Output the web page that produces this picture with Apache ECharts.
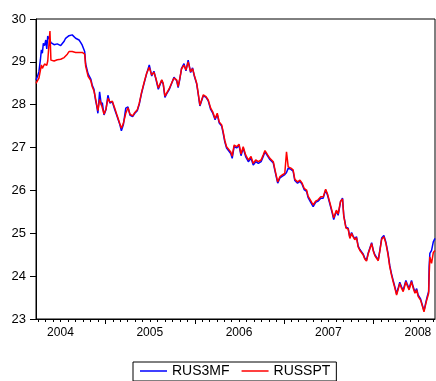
<!DOCTYPE html>
<html>
<head>
<meta charset="utf-8">
<script src="https://cdn.jsdelivr.net/npm/echarts@6/dist/echarts.min.js"></script>
<style>
  html, body { margin: 0; padding: 0; background: #fff; }
  #chart { width: 436px; height: 381px; }
</style>
</head>
<body>
<div id="chart"></div>
<script>
// Observation dates (sampled daily fixings)
const dates = [
  '2004-03-23','2004-03-29','2004-04-04','2004-04-10','2004-04-14','2004-04-18','2004-04-22','2004-04-27',
  '2004-05-02','2004-05-06','2004-05-10','2004-05-15','2004-05-19','2004-05-23','2004-05-29','2004-06-05',
  '2004-06-12','2004-06-18','2004-06-25','2004-07-02','2004-07-09','2004-07-16','2004-07-22','2004-07-29',
  '2004-08-05','2004-08-12','2004-08-18','2004-08-25','2004-09-01','2004-09-08','2004-09-15','2004-09-22',
  '2004-09-28','2004-10-08','2004-10-12','2004-10-22','2004-11-02','2004-11-08','2004-11-15','2004-11-21',
  '2004-11-26','2004-12-01','2004-12-08','2004-12-15','2004-12-19','2004-12-26',
  '2005-01-03','2005-01-11','2005-01-19','2005-01-29','2005-02-08','2005-02-18','2005-03-01','2005-03-07',
  '2005-03-15','2005-03-25','2005-04-03','2005-04-11','2005-04-22','2005-05-01','2005-05-11','2005-05-19',
  '2005-05-29','2005-06-07','2005-06-18','2005-06-29','2005-07-09','2005-07-18','2005-07-26','2005-08-05',
  '2005-08-12','2005-08-19','2005-08-25','2005-09-01','2005-09-08','2005-09-19','2005-09-28','2005-10-08',
  '2005-10-19','2005-10-25','2005-11-01','2005-11-08','2005-11-18','2005-11-26','2005-12-05','2005-12-15',
  '2005-12-23','2005-12-30',
  '2006-01-09','2006-01-15','2006-01-22','2006-01-29','2006-02-05','2006-02-16','2006-02-25','2006-03-07',
  '2006-03-15','2006-03-25','2006-04-03','2006-04-11','2006-04-21','2006-04-27','2006-05-04','2006-05-11',
  '2006-05-18','2006-05-28','2006-06-03','2006-06-11','2006-06-21','2006-07-01','2006-07-09','2006-07-18',
  '2006-07-28','2006-08-08','2006-08-19','2006-08-28','2006-09-07','2006-09-18','2006-09-29','2006-10-08',
  '2006-10-15','2006-10-26','2006-11-04','2006-11-18','2006-11-25','2006-12-06','2006-12-15','2006-12-24',
  '2007-01-04','2007-01-11','2007-01-18','2007-01-29','2007-02-07','2007-02-14','2007-02-25','2007-03-07',
  '2007-03-16','2007-03-24','2007-04-03','2007-04-09','2007-04-20','2007-04-30','2007-05-10','2007-05-20',
  '2007-05-31','2007-06-10','2007-06-20','2007-06-28','2007-07-07','2007-07-17','2007-07-23','2007-08-03',
  '2007-08-10','2007-08-20','2007-08-28','2007-09-02','2007-09-11','2007-09-20','2007-09-27','2007-10-04',
  '2007-10-10','2007-10-17','2007-10-24','2007-10-31','2007-11-07','2007-11-14','2007-11-20','2007-11-27',
  '2007-12-04','2007-12-11','2007-12-18','2007-12-25',
  '2008-01-01','2008-01-07','2008-01-14','2008-01-21','2008-01-28','2008-02-04','2008-02-13','2008-02-21',
  '2008-03-01','2008-03-08','2008-03-15','2008-03-22','2008-03-29','2008-04-05','2008-04-11','2008-04-18',
  '2008-04-25','2008-05-02','2008-05-13','2008-05-18','2008-05-26','2008-06-05','2008-06-12','2008-06-19',
  '2008-06-26','2008-07-02','2008-07-12','2008-07-20','2008-07-26','2008-08-03','2008-08-08','2008-08-14',
  '2008-08-16','2008-08-19','2008-08-26','2008-09-02','2008-09-09'
];

// RUS3MF: three-month forward rate
const rus3mf = [
  28.58,28.66,28.77,29.05,29.28,29.20,29.43,29.38,
  29.51,29.30,29.60,29.55,29.50,29.45,29.43,29.40,
  29.39,29.42,29.43,29.38,29.39,29.48,29.55,29.58,
  29.61,29.60,29.63,29.60,29.55,29.56,29.51,29.45,
  29.39,29.24,28.95,28.72,28.60,28.45,28.36,28.12,
  27.98,27.80,28.30,27.99,28.05,27.76,
  27.88,28.22,28.04,28.07,27.88,27.72,27.53,27.39,
  27.53,27.92,27.95,27.76,27.72,27.80,27.86,28.01,
  28.28,28.48,28.72,28.93,28.67,28.78,28.60,28.36,
  28.40,28.57,28.48,28.17,28.25,28.36,28.49,28.64,
  28.56,28.40,28.60,28.85,28.96,28.79,29.04,28.75,
  28.86,28.67,
  28.48,28.25,27.97,28.09,28.21,28.17,28.09,27.89,
  27.81,27.65,27.77,27.57,27.50,27.34,27.13,26.99,
  27.01,26.86,26.75,27.03,26.99,27.05,26.81,26.99,
  26.79,26.67,26.75,26.59,26.67,26.63,26.67,26.79,
  26.90,26.80,26.72,26.64,26.45,26.17,26.29,26.33,
  26.37,26.42,26.52,26.49,26.45,26.23,26.17,26.21,
  26.14,26.02,25.98,25.84,25.72,25.62,25.72,25.75,
  25.82,25.82,26.01,25.88,25.69,25.47,25.32,25.52,
  25.42,25.74,25.82,25.42,25.14,25.12,24.90,25.02,
  24.94,24.87,24.92,24.70,24.62,24.64,24.52,24.42,
  24.37,24.54,24.52,24.78,
  24.60,24.50,24.48,24.38,24.62,24.89,24.95,24.80,
  24.53,24.25,24.06,23.90,23.75,23.59,23.71,23.86,
  23.75,23.67,23.90,23.82,23.71,23.90,23.75,23.63,
  23.71,23.56,23.47,23.31,23.19,23.40,23.52,23.64,
  24.22,24.53,24.60,24.80,24.88
];

// RUSSPT: spot rate
const russpt = [
  28.50,28.52,28.62,28.80,28.93,28.85,28.89,28.95,
  28.97,28.92,29.02,29.04,29.72,29.04,29.04,29.02,
  29.04,29.05,29.06,29.06,29.08,29.10,29.12,29.18,
  29.24,29.23,29.24,29.22,29.22,29.22,29.22,29.22,
  29.22,29.18,28.90,28.66,28.56,28.42,28.32,28.16,
  28.00,27.86,28.12,28.01,28.03,27.78,
  27.90,28.15,28.06,28.08,27.92,27.74,27.55,27.45,
  27.56,27.80,27.93,27.78,27.74,27.82,27.88,28.03,
  28.30,28.50,28.73,28.87,28.69,28.76,28.62,28.39,
  28.42,28.58,28.50,28.20,28.27,28.38,28.50,28.62,
  28.58,28.42,28.62,28.84,28.92,28.81,29.00,28.77,
  28.84,28.69,
  28.50,28.27,27.99,28.11,28.23,28.19,28.11,27.92,
  27.84,27.68,27.80,27.60,27.53,27.37,27.16,27.02,
  27.04,26.90,26.80,27.06,27.02,27.08,26.85,27.02,
  26.83,26.71,26.79,26.63,26.71,26.67,26.71,26.83,
  26.93,26.83,26.75,26.67,26.48,26.20,26.32,26.36,
  26.40,26.90,26.55,26.52,26.48,26.26,26.20,26.24,
  26.17,26.05,26.01,25.87,25.76,25.66,25.75,25.78,
  25.85,25.85,26.03,25.91,25.72,25.50,25.36,25.54,
  25.45,25.75,25.80,25.40,25.12,25.10,24.88,25.00,
  24.92,24.85,24.90,24.68,24.60,24.62,24.50,24.40,
  24.35,24.52,24.50,24.76,
  24.58,24.48,24.46,24.36,24.60,24.86,24.92,24.77,
  24.50,24.22,24.03,23.87,23.72,23.56,23.68,23.83,
  23.72,23.64,23.87,23.79,23.68,23.87,23.72,23.60,
  23.68,23.53,23.44,23.29,23.17,23.37,23.48,23.60,
  24.00,24.45,24.30,24.55,24.60
];

const years = [2004, 2005, 2006, 2007, 2008];
const seriesNames = ['RUS3MF', 'RUSSPT'];

const toTime = s => {
  const [y, m, d] = s.split('-').map(Number);
  return Date.UTC(y, m - 1, d);
};
const xMin = toTime(dates[0]);
const xMax = toTime(dates[dates.length - 1]);

// Long ticks at year boundaries, short ticks at each month, labels mid-year
const yearStarts = years.map(y => Date.UTC(y, 0, 1)).filter(t => t > xMin && t < xMax);
const yearMiddles = years.map(y => Date.UTC(y, 6, 1));
const monthStarts = [];
years.forEach(y => {
  for (let m = 0; m < 12; m++) {
    const t = Date.UTC(y, m, 1);
    if (t > xMin && t < xMax) monthStarts.push(t);
  }
});

const font = 'Liberation Sans, Arial, sans-serif';
const chart = echarts.init(document.getElementById('chart'), null, { renderer: 'canvas' });

chart.setOption({
  animation: false,
  backgroundColor: '#fff',
  grid: {
    left: 36, right: 1, top: 19, bottom: 62,
    show: true, borderColor: '#000', borderWidth: 1, backgroundColor: 'transparent'
  },
  legend: {
    data: seriesNames,
    left: 133, top: 362,
    padding: [2, 6, 3, 7],
    borderColor: '#000', borderWidth: 1,
    icon: 'rect',
    itemWidth: 27, itemHeight: 1.5, itemGap: 12,
    textStyle: { fontFamily: font, fontSize: 14, color: '#000' }
  },
  xAxis: [
    {
      type: 'value', min: xMin, max: xMax,
      axisLine: { show: true, lineStyle: { color: '#000', width: 1 } },
      axisTick: { show: true, customValues: yearStarts, length: 5, lineStyle: { color: '#000' } },
      axisLabel: {
        customValues: yearMiddles, margin: 8,
        fontFamily: font, fontSize: 12, color: '#000',
        formatter: v => String(new Date(v).getUTCFullYear())
      },
      splitLine: { show: false }
    },
    {
      type: 'value', min: xMin, max: xMax, position: 'bottom', gridIndex: 0,
      axisLine: { show: false },
      axisTick: { show: true, customValues: monthStarts, length: 3, lineStyle: { color: '#000' } },
      axisLabel: { show: false },
      splitLine: { show: false }
    }
  ],
  yAxis: {
    type: 'value', min: 23, max: 30, interval: 1,
    axisLine: { show: true, lineStyle: { color: '#000', width: 1 } },
    axisTick: { show: true, length: 6, lineStyle: { color: '#000' } },
    axisLabel: { margin: 10, fontFamily: font, fontSize: 13, color: '#000' },
    splitLine: { show: false }
  },
  series: [
    {
      name: seriesNames[0], type: 'line', xAxisIndex: 0, symbol: 'none', showSymbol: false,
      data: dates.map((d, i) => [toTime(d), rus3mf[i]]),
      lineStyle: { color: '#0000ff', width: 1.5 }, itemStyle: { color: '#0000ff' }
    },
    {
      name: seriesNames[1], type: 'line', xAxisIndex: 0, symbol: 'none', showSymbol: false,
      data: dates.map((d, i) => [toTime(d), russpt[i]]),
      lineStyle: { color: '#ff0000', width: 1.5 }, itemStyle: { color: '#ff0000' }
    }
  ]
});
</script>
</body>
</html>
